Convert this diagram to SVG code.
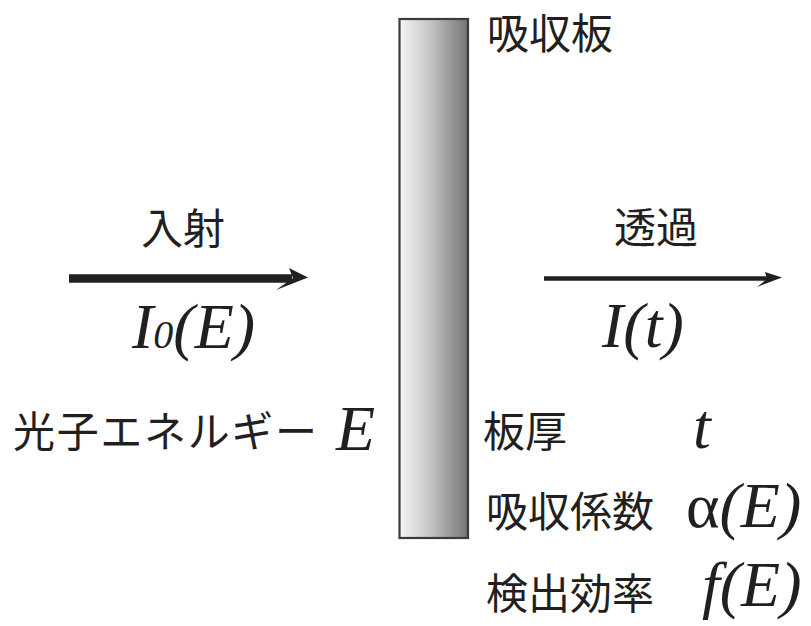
<svg xmlns="http://www.w3.org/2000/svg" width="811" height="626" viewBox="0 0 811 626">
<defs>
<linearGradient id="plateGrad" x1="0" y1="0" x2="1" y2="0">
<stop offset="0" stop-color="#f6f6f6"/>
<stop offset="0.45" stop-color="#c4c4c4"/>
<stop offset="1" stop-color="#747474"/>
</linearGradient>
<style>
.jp{font-family:"Noto Sans CJK JP","Noto Sans CJK SC",sans-serif;font-size:42px;fill:#231f20;}
.math{font-family:"Liberation Serif","Times New Roman",serif;font-style:italic;font-size:64px;fill:#231f20;}
.up{font-style:normal;}
</style>
</defs>
<rect width="811" height="626" fill="#ffffff"/>
<g id="plate">
<rect x="399.5" y="19" width="68.5" height="519" fill="url(#plateGrad)" stroke="#3c3a3a" stroke-width="2.2"/>
<text class="jp" x="487" y="49">吸収板</text>
</g>
<g id="connectors">
<g id="incident-arrow">
<line x1="69" y1="278.5" x2="292" y2="278.5" stroke="#231f20" stroke-width="8.5"/>
<polygon points="308,277.5 289,268 293,278 276,290" fill="#231f20"/>
</g>
<g id="transmit-arrow">
<line x1="544" y1="278.5" x2="768" y2="278.5" stroke="#231f20" stroke-width="4.5"/>
<polygon points="782,277.5 765,272 767,279 757,287" fill="#231f20"/>
</g>
</g>
<g id="incident">
<text class="jp" x="141" y="244">入射</text>
<text class="math" x="132" y="348">I<tspan font-size="40">0</tspan>(E)</text>
</g>
<g id="transmitted">
<text class="jp" x="614" y="243">透過</text>
<text class="math" x="602" y="347">I(t)</text>
</g>
<g id="photon-energy">
<text class="jp" x="13" y="447" textLength="304" lengthAdjust="spacing">光子エネルギー</text>
<text class="math" x="336" y="450">E</text>
</g>
<g id="thickness">
<text class="jp" x="483" y="447">板厚</text>
<text class="math" x="693" y="448">t</text>
</g>
<g id="absorption-coefficient">
<text class="jp" x="486" y="527">吸収係数</text>
<text class="math" x="686" y="527"><tspan class="up">α</tspan>(E)</text>
</g>
<g id="detection-efficiency">
<text class="jp" x="486" y="609">検出効率</text>
<text class="math" x="702" y="606">f(E)</text>
</g>
</svg>
